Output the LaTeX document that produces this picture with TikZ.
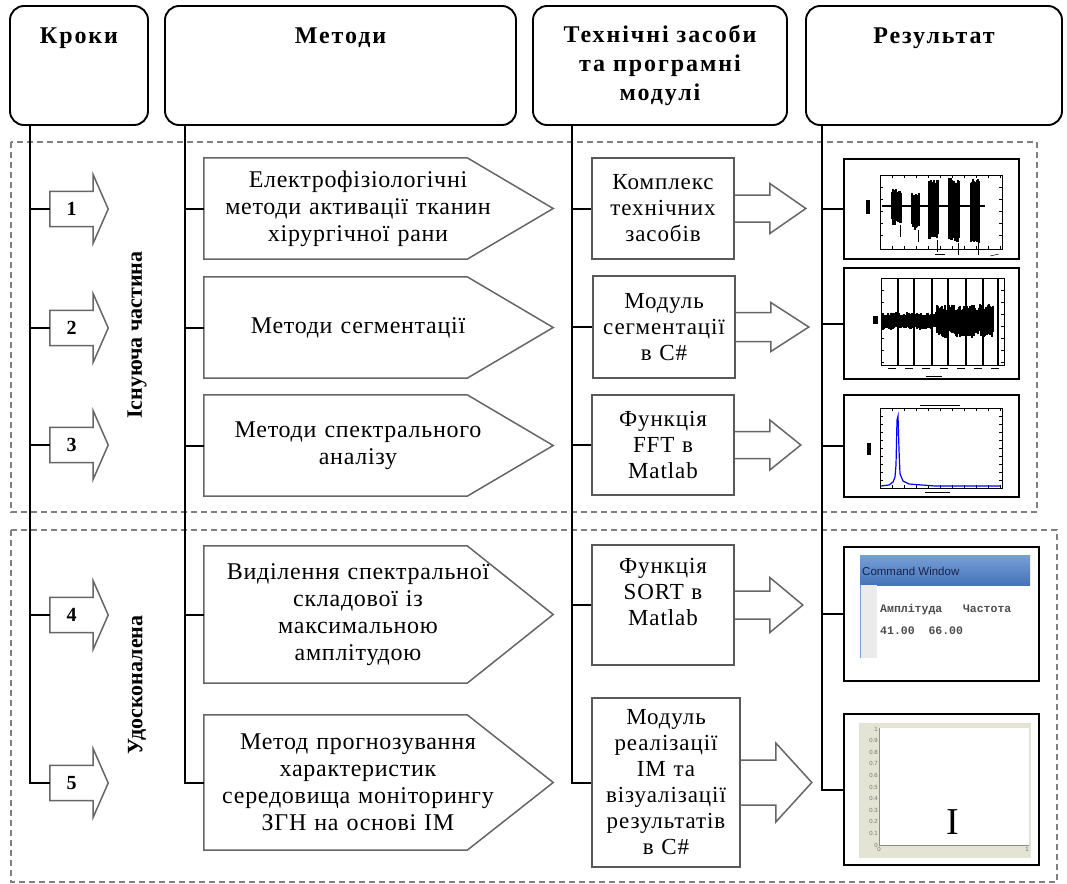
\documentclass[tikz,border=0pt]{standalone}
\usepackage{fontspec}
\setmainfont{Liberation Serif}
\setsansfont{Liberation Sans}
\setmonofont{Liberation Mono}
\usetikzlibrary{calc,positioning}

\definecolor{cmdtop}{RGB}{120,160,215}
\definecolor{cmdbot}{RGB}{70,115,185}
\definecolor{cmdtext}{RGB}{25,35,70}
\definecolor{plotbg}{RGB}{228,228,212}
\definecolor{specblue}{RGB}{0,0,255}

\newcommand{\bodyfnt}{\fontsize{24}{27}\selectfont\addfontfeature{LetterSpace=3}}
\newcommand{\techfnt}{\fontsize{23}{26}\selectfont\addfontfeature{LetterSpace=4}}
\newcommand{\headfnt}{\bfseries\fontsize{24}{29}\selectfont\addfontfeature{LetterSpace=8}}

\tikzset{
  head/.style={rectangle, draw, rounded corners=14pt, line width=1.9pt, inner sep=0pt, minimum height=119pt, font=\headfnt},
  trunk/.style={line width=2pt, black},
  arrowline/.style={draw=black!60, line width=1.5pt, line join=miter},
  stepnum/.style={minimum width=43pt, minimum height=35pt, inner sep=0pt, font=\bfseries\fontsize{20}{20}\selectfont},
  method/.style={minimum width=308pt, text width=300pt, align=center, inner sep=0pt, font=\bodyfnt},
  tech/.style={rectangle, draw=black!65, line width=1.6pt, minimum width=142pt, text width=138pt, align=center, inner sep=2pt, font=\techfnt},
  result/.style={rectangle, draw, line width=1.5pt, inner sep=0pt},
  zone/.style={draw=black!50, dash pattern=on 6pt off 4pt, line width=1.5pt},
  zonelabel/.style={rotate=90, font=\bfseries\fontsize{22}{22}\selectfont},
  ticklab/.style={font=\sffamily\fontsize{6}{6}\selectfont, text=black!55, inner sep=1pt}
}

\begin{document}
\begin{tikzpicture}[x=1pt, y=-1pt]
  \useasboundingbox (0,0) rectangle (1067,883);
  \fill[white] (0,0) rectangle (1067,883);

  % dashed zones
  \draw[zone] (11,142) rectangle (1037,512);
  \draw[zone] (11,530) rectangle (1057,882);

  % column heads
  \node(hsteps) [head, minimum width=138pt, text height=38pt, text depth=81pt] at (79,65.5) {Кроки};
  \node(hmeth) [head, minimum width=351pt, text height=38pt, text depth=81pt] at (340.5,65.5) {Методи};
  \node(htech) [head, minimum width=254pt, align=center] at (660,65.5) {Технічні засоби\\та програмні\\модулі};
  \node(hres) [head, minimum width=256pt, text height=38pt, text depth=81pt] at (934,65.5) {Результат};

  % steps
  \node(s1) [stepnum] at (71.5,209) {1};
  \node(s2) [stepnum] at (71.5,328) {2};
  \node(s3) [stepnum] at (71.5,445) {3};
  \node(s4) [stepnum] at (71.5,615) {4};
  \node(s5) [stepnum] at (71.5,783) {5};
  \foreach \n in {1,...,5}{
    \draw[arrowline] (s\n.north west) -- (s\n.north east) -- ++(0,-16.5) -- ($(s\n.east)+(15,0)$)
      -- ($(s\n.south east)+(0,16.5)$) -- (s\n.south east) -- (s\n.south west) -- cycle;
  }
  \node(exist) [zonelabel] at (137,335) {Існуюча частина};
  \node(impr) [zonelabel] at (137,685) {Удосконалена};

  % methods
  \node(m1) [method, minimum height=101pt] at (358,208.5) {Електрофізіологічні\\методи активації тканин\\хірургічної рани};
  \node(m2) [method, minimum height=101pt] at (358,327.5) {Методи сегментації};
  \node(m3) [method, minimum height=101pt] at (358,445.5) {Методи спектрального\\аналізу};
  \node(m4) [method, minimum height=137pt] at (358,614.5) {Виділення спектральної\\складової із\\максимальною\\амплітудою};
  \node(m5) [method, minimum height=135pt] at (358,782.5) {Метод прогнозування\\характеристик\\середовища моніторингу\\ЗГН на основі ІМ};
  \foreach \n in {1,...,5}{
    \draw[arrowline] (m\n.north west) -- ($(m\n.north east)+(-45,0)$) -- ($(m\n.east)+(41,0)$)
      -- ($(m\n.south east)+(-45,0)$) -- (m\n.south west) -- cycle;
  }

  % technical means
  \node(t1) [tech, minimum height=101pt] at (663,208.5) {Комплекс\\технічних\\засобів};
  \node(t2) [tech, minimum height=102pt] at (664,327) {Модуль\\сегментації\\в С\#};
  \node(t3) [tech, minimum height=100pt] at (663,445) {Функція\\FFT в\\Matlab};
  \node(t4) [tech, minimum height=120pt] at (663,605) {Функція\\SORT в\\Matlab\\\mbox{}};
  \node(t5) [tech, minimum height=169pt, minimum width=148pt] at (666,782.5) {Модуль\\реалізації\\ІМ та\\візуалізації\\результатів\\в С\#};
  \foreach \n/\a/\b/\l in {1/13.5/25/71, 2/14.5/24.5/73, 3/13.5/25/66, 4/14/27.5/68, 5/22.5/39.5/71}{
    \draw[arrowline] ($(t\n.east)+(0,-\a)$) -- ++(35,0) -- ++(0,\a-\b) -- ($(t\n.east)+(\l,0)$)
      -- ($(t\n.east)+(35,\b)$) -- ++(0,\a-\b) -- ($(t\n.east)+(0,\a)$);
  }

  % results
  \node(r1) [result, minimum width=175pt, minimum height=100pt] at (931.5,209) {};
  \node(r2) [result, minimum width=175pt, minimum height=111pt] at (931.5,323.5) {};
  \node(r3) [result, minimum width=175pt, minimum height=102pt] at (931.5,446) {};
  \node(r4) [result, minimum width=195pt, minimum height=134pt] at (941.5,614) {};
  \node(r5) [result, minimum width=195pt, minimum height=151pt] at (941.5,789.5) {};

  % trunks and branches
  \coordinate (ks) at ($(hsteps.south west)+(21,0)$);
  \coordinate (km) at ($(hmeth.south west)+(21,0)$);
  \coordinate (kt) at ($(htech.south west)+(40,0)$);
  \coordinate (kr) at ($(hres.south west)+(17,0)$);
  \draw[trunk] (ks) |- (s5.west);
  \draw[trunk] (km) |- (m5.west);
  \draw[trunk] (kt) |- (t5.west);
  \draw[trunk] (kr) |- (r5.west);
  \foreach \n in {1,...,4}{
    \draw[trunk] (ks |- s\n.west) -- (s\n.west);
    \draw[trunk] (km |- m\n.west) -- (m\n.west);
    \draw[trunk] (kt |- t\n.west) -- (t\n.west);
    \draw[trunk] (kr |- r\n.west) -- (r\n.west);
  }

  % plot 1: bursts
  \draw[line width=0.6pt] (880,175) rectangle (1002,249);
  \foreach \x in {892,904,...,1000}{\draw[line width=0.5pt] (\x,249) -- ++(0,-3); \draw[line width=0.5pt] (\x,175) -- ++(0,3);}
  \foreach \y in {187,199,...,245}{\draw[line width=0.5pt] (880,\y) -- ++(3,0); \draw[line width=0.5pt] (1002,\y) -- ++(-3,0);}
  \draw[line width=2pt] (882,206) -- (985,206);
  \pgfmathsetseed{5}
  \foreach \a/\b/\t/\d in {892/901/189/225, 912/919/191/230, 929/938/179/240, 949/959/178/243, 971/979/178/243}{
    \foreach \x in {\a,...,\b}{
      \pgfmathsetmacro\up{\t+6*rnd}
      \pgfmathsetmacro\dn{\d-6*rnd}
      \draw[line width=1.1pt] (\x,\up) -- (\x,\dn);
    }
    \draw[line width=0.8pt] (\b-1,\d) -- ++(0,12);
  }
  \fill (866,200) rectangle (870,214);
  \draw[line width=0.5pt] (935,254) -- (945,254);
  \draw[line width=0.5pt] (990,256) -- (999,254);

  % plot 2: segmented signal
  \draw[line width=0.6pt] (881,278) rectangle (1004,365);
  \foreach \x in {898,914,932,948,966,983,998}{\draw[line width=1.1pt] (\x,278) -- (\x,366);}
  \foreach \y in {290,302,...,362}{\draw[line width=0.5pt] (881,\y) -- ++(3,0); \draw[line width=0.5pt] (1004,\y) -- ++(-3,0);}
  \pgfmathsetseed{11}
  \foreach \x in {883,884,...,993}{
    \pgfmathsetmacro\amp{\x<937 ? 9 : 17}
    \pgfmathsetmacro\up{321-\amp*(0.55+0.45*rnd)}
    \pgfmathsetmacro\dn{321+\amp*(0.55+0.45*rnd)}
    \draw[line width=1.1pt] (\x,\up) -- (\x,\dn);
  }
  \fill (873,316) rectangle (878,324);
  \foreach \x in {888,905,922,940,957,974,991}{\draw[line width=0.6pt] (\x,368) -- ++(8,0);}
  \draw[line width=0.5pt] (926,376) -- (942,376);

  % plot 3: spectrum
  \draw[line width=0.6pt] (880,408) rectangle (1002,488);
  \foreach \y in {416,424,...,480}{\draw[line width=0.5pt] (880,\y) -- ++(3,0); \draw[line width=0.5pt] (1002,\y) -- ++(-3,0);}
  \foreach \x in {892,904,...,1000}{\draw[line width=0.5pt] (\x,488) -- ++(0,-3); \draw[line width=0.5pt] (\x,408) -- ++(0,3);}
  \draw[line width=0.6pt] (920,405) -- (960,405);
  \draw[line width=0.6pt] (925,492) -- (950,492);
  \fill (867,443) rectangle (871,455);
  \draw[specblue, line width=1.2pt] (881,486) -- (889,485) -- (893,482) -- (895,477) -- (896,465)
    -- (897,420) -- (898,416) -- (899,450) -- (900,474) -- (903,481) -- (909,484) -- (922,485)
    -- (935,486) -- (1000,486);

  % command window
  \shade[top color=cmdtop, bottom color=cmdbot] (860,555) rectangle (1030,585);
  \node(cmdtitle) [anchor=west, font=\sffamily\fontsize{11.5}{11.5}\selectfont, text=cmdtext, inner sep=1pt] at (861,571) {Command Window};
  \fill[black!8] (861,585) rectangle (877,658);
  \draw[cmdbot!70, line width=1pt] (860,585) -- (860,658);
  \node(cmdhead) [anchor=west, font=\ttfamily\bfseries\fontsize{11.5}{11.5}\selectfont, text=black!70, inner sep=0pt] at (880,610) {Амплітуда\ \ \ Частота};
  \node(cmdvals) [anchor=west, font=\ttfamily\bfseries\fontsize{11.5}{11.5}\selectfont, text=black!70, inner sep=0pt] at (880,631) {41.00\ \ 66.00};

  % empty chart
  \fill[plotbg] (859,723) rectangle (1031,858);
  \fill[white] (879,728) rectangle (1029,845);
  \draw[black!45, line width=0.5pt] (879,728) -- (879,845) -- (1029,845);
  \foreach \lab [count=\i from 0] in {0,0.1,0.2,0.3,0.4,0.5,0.6,0.7,0.8,0.9,1}{
    \node[ticklab, anchor=east] at (879,845-11.6*\i) {\lab};
  }
  \node[ticklab, anchor=north] at (879,846) {0};
  \node[ticklab, anchor=north] at (1027,846) {1};
  \node(cursor) [font=\fontsize{38}{38}\selectfont, inner sep=0pt] at (953,822) {I};
\end{tikzpicture}
\end{document}
